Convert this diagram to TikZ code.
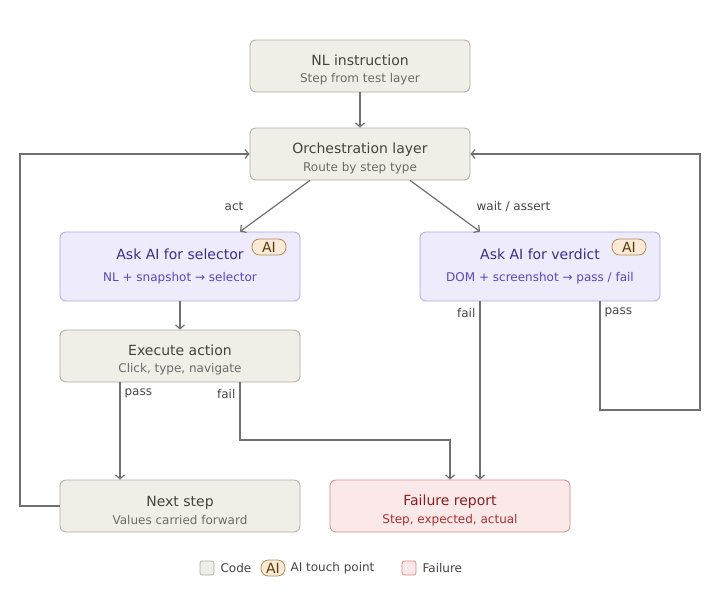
\documentclass[tikz,border=0pt]{standalone}
\usepackage{fontspec}
\setmainfont{DejaVu Sans}
\usetikzlibrary{arrows.meta, calc, positioning}
\definecolor{codefill}{HTML}{F1EEE7}
\definecolor{codeline}{HTML}{AFAAA1}
\definecolor{aifill}{HTML}{EEECFC}
\definecolor{ailine}{HTML}{ABA3EA}
\definecolor{aitext}{HTML}{3B2E8C}
\definecolor{aisub}{HTML}{5A46C2}
\definecolor{failfill}{HTML}{FBE9E9}
\definecolor{failline}{HTML}{DC8686}
\definecolor{failtext}{HTML}{8C1D1D}
\definecolor{failsub}{HTML}{B02C2C}
\definecolor{badgefill}{HTML}{FBEBD6}
\definecolor{badgeline}{HTML}{B48B55}
\definecolor{badgetext}{HTML}{5C3A12}
\definecolor{dktext}{HTML}{454340}
\definecolor{gytext}{HTML}{6E6B66}
\definecolor{wire}{HTML}{707070}

\newcommand{\boxttl}{\fontsize{14}{17}\selectfont}
\newcommand{\boxsub}{\fontsize{12}{14}\selectfont}
\newcommand{\topgap}{\rule{0pt}{19pt}}

\tikzset{
  codebox/.style={draw=codeline, fill=codefill, rounded corners=6pt, line width=0.8pt,
    minimum width=220pt, minimum height=52pt, align=center, text=dktext},
  aibox/.style={draw=ailine, fill=aifill, rounded corners=6pt, line width=0.8pt,
    minimum width=240pt, minimum height=69pt, align=center, text=aitext},
  failbox/.style={draw=failline, fill=failfill, rounded corners=6pt, line width=0.8pt,
    minimum width=240pt, minimum height=52pt, align=center, text=failtext},
  badge/.style={draw=badgeline, fill=badgefill, rounded corners=7.5pt, line width=0.8pt,
    text=badgetext, font=\fontsize{14}{14}\selectfont, inner sep=0pt,
    minimum width=34pt, minimum height=16pt},
  flow/.style={draw=wire, line width=1.2pt, ->},
  lbl/.style={text=dktext, font=\fontsize{12}{14}\selectfont, inner sep=2pt},
  legbox/.style={draw, rounded corners=2.5pt, line width=0.8pt, minimum size=14pt, inner sep=0pt},
}

\begin{document}
\begin{tikzpicture}[x=1pt, y=-1pt, >={Straight Barb[length=4pt, width=9pt]}]
\useasboundingbox (0,0) rectangle (720,600);

% =====================================================
% Boxes
% =====================================================
\node[codebox] (nlinst) at (360,66)
  {{\boxttl\topgap NL instruction}\\[5pt]{\boxsub\color{gytext}Step from test layer}};
\node[codebox] (orch) at (360,154)
  {{\boxttl\topgap Orchestration layer}\\[5pt]{\boxsub\color{gytext}Route by step type}};

\node[aibox] (selector) at (180,266.5)
  {{\boxttl Ask AI for selector}\\[10pt]{\boxsub\color{aisub}NL + snapshot → selector}};
\node[badge] (selbadge) at (269,247) {AI};

\node[aibox] (verdict) at (540,266.5)
  {{\boxttl Ask AI for verdict}\\[10pt]{\boxsub\color{aisub}DOM + screenshot → pass / fail}};
\node[badge] (verbadge) at (629,247) {AI};

\node[codebox, minimum width=240pt] (exec) at (180,356)
  {{\boxttl\topgap Execute action}\\[5pt]{\boxsub\color{gytext}Click, type, navigate}};

\node[codebox, minimum width=240pt] (next) at (180,506)
  {{\boxttl\topgap Next step}\\[5pt]{\boxsub\color{gytext}Values carried forward}};
\node[failbox] (report) at (450,506)
  {{\boxttl\topgap Failure report}\\[5pt]{\boxsub\color{failsub}Step, expected, actual}};

% =====================================================
% Connectors
% =====================================================
\draw[flow] (nlinst) -- (orch);
\draw[flow] ([xshift=-50pt]orch.south) -- node[lbl, anchor=east, xshift=-29pt] {act} ([xshift=60pt]selector.north);
\draw[flow] ([xshift=50pt]orch.south) -- node[lbl, anchor=west, xshift=29pt] {wait / assert} ([xshift=-60pt]verdict.north);
\draw[flow] (selector) -- (exec);

% execute action: pass / fail
\draw[flow] ([xshift=-60pt]exec.south) -- node[lbl, at start, anchor=north west, xshift=2pt, yshift=-4pt] {pass} ([xshift=-60pt]next.north);
\coordinate (execfail) at (240,440);
\draw[flow] ([xshift=60pt]exec.south) -- node[lbl, at start, anchor=north east, xshift=-2pt, yshift=-4pt] {fail} (execfail) -| (report.north);

% verdict: fail / pass
\draw[flow] ([xshift=-60pt]verdict.south) -- node[lbl, at start, anchor=north east, xshift=-2pt, yshift=-4pt] {fail} ([xshift=30pt]report.north);
\coordinate (passdown) at (600,410);
\coordinate (passturn) at (700,410);
\draw[flow] ([xshift=60pt]verdict.south) -- node[lbl, at start, anchor=north west, xshift=2pt, yshift=-4pt] {pass} (passdown) -- (passturn) |- (orch.east);

% loop back from next step
\coordinate (loopturn) at (20,506);
\draw[flow] (next.west) -- (loopturn) |- (orch.west);

% =====================================================
% Legend
% =====================================================
\node[legbox, draw=codeline, fill=codefill] (legcode) at (207,568) {};
\node[lbl, right=4pt of legcode] (legcodetxt) {Code};
\node[badge, minimum width=24pt] (legai) at (273,568) {AI};
\node[lbl, right=3pt of legai] (legaitxt) {AI touch point};
\node[legbox, draw=failline, fill=failfill] (legfail) at (409,568) {};
\node[lbl, right=4pt of legfail] (legfailtxt) {Failure};

\end{tikzpicture}
\end{document}
